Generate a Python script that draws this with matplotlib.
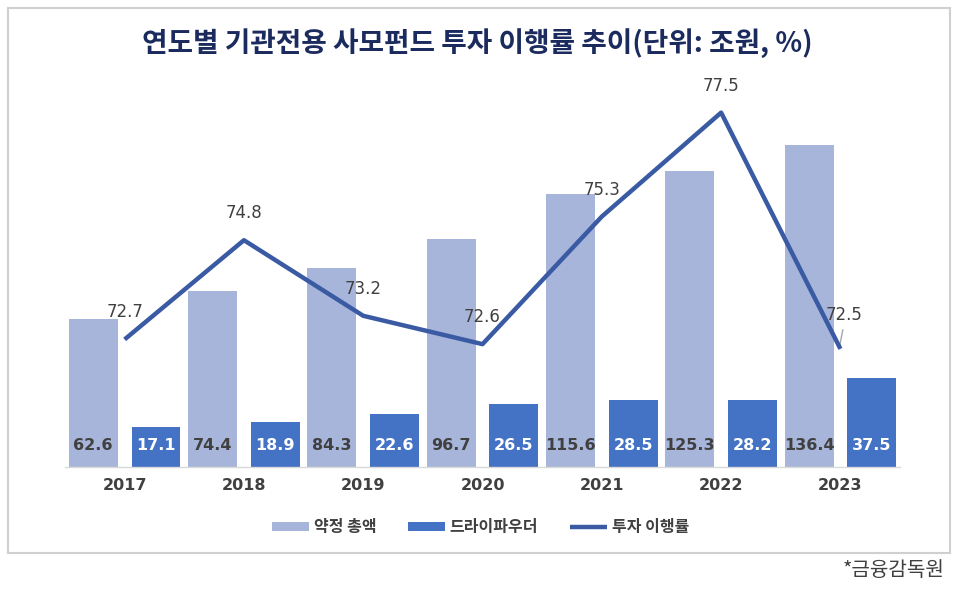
import matplotlib
matplotlib.use("Agg")
import matplotlib.pyplot as plt
from matplotlib.patches import Rectangle
import numpy as np

plt.rcParams['font.family'] = ['Noto Sans CJK KR', 'DejaVu Sans']
NUM_FONT = ['DejaVu Sans']

years = ['2017', '2018', '2019', '2020', '2021', '2022', '2023']
commit_total = [62.6, 74.4, 84.3, 96.7, 115.6, 125.3, 136.4]   # 약정 총액
dry_powder = [17.1, 18.9, 22.6, 26.5, 28.5, 28.2, 37.5]        # 드라이파우더
exec_rate = [72.7, 74.8, 73.2, 72.6, 75.3, 77.5, 72.5]         # 투자 이행률

c_light = '#A7B5DB'
c_dark = '#4472C4'
c_line = '#3A5BA3'
c_text = '#404040'

fig = plt.figure(figsize=(9.61, 5.94), dpi=100)
ax = fig.add_axes([0.0676, 0.2138, 0.869, 0.6364])
ax2 = ax.twinx()

x = np.arange(len(years))
w = 0.41
off = 0.263
b1 = ax.bar(x - off, commit_total, w, color=c_light, label='약정 총액', zorder=2)
b2 = ax.bar(x + off, dry_powder, w, color=c_dark, label='드라이파우더', zorder=2)

for xi, v in zip(x, commit_total):
    ax.text(xi - off, 9, f'{v}', ha='center', va='center', fontsize=11.5,
            fontweight='bold', color=c_text, family=NUM_FONT, zorder=3)
for xi, v in zip(x, dry_powder):
    ax.text(xi + off, 9, f'{v}', ha='center', va='center', fontsize=11.5,
            fontweight='bold', color='white', family=NUM_FONT, zorder=3)

ln, = ax2.plot(x, exec_rate, color=c_line, lw=3.2, label='투자 이행률',
               solid_capstyle='butt', zorder=4)
for i, (xi, v) in enumerate(zip(x, exec_rate)):
    if i == len(x) - 1:
        ax2.plot([xi - 0.01, xi + 0.02], [v + 0.02, v + 0.4], color='#A6A6A6', lw=1)
        ax2.text(xi + 0.03, v + 0.72, f'{v}', ha='center', va='center',
                 fontsize=12, color=c_text, family=NUM_FONT)
    else:
        ax2.text(xi, v + 0.57, f'{v}', ha='center', va='center',
                 fontsize=12, color=c_text, family=NUM_FONT)

ax.set_xlim(-0.5, 6.5)
ax.set_ylim(0, 160)
ax2.set_ylim(70, 78)
ax.set_xticks(x)
ax.set_xticklabels(years, fontsize=11.5, fontweight='bold', color=c_text, family=NUM_FONT)
ax.tick_params(axis='x', length=0, pad=8)
ax.set_yticks([])
ax2.set_yticks([])
for a in (ax, ax2):
    for s in ['top', 'right', 'left', 'bottom']:
        a.spines[s].set_visible(False)
ax.spines['bottom'].set_visible(True)
ax.spines['bottom'].set_color('#D9D9D9')
ax.spines['bottom'].set_linewidth(1)

ax.set_zorder(1)
ax2.set_zorder(2)
ax2.patch.set_visible(False)

fig.legend(handles=[b1, b2, ln], loc='center', bbox_to_anchor=(0.5, 0.113), ncol=3,
           frameon=False, prop={'size': 11.5, 'weight': 'bold'}, handlelength=2.3,
           handleheight=0.5, handletextpad=0.3, columnspacing=2.0, labelcolor=c_text)

fig.text(0.497, 0.927, '연도별 기관전용 사모펀드 투자 이행률 추이(단위: 조원, %)',
         ha='center', va='center', fontsize=20, fontweight='bold', color='#1B2B5E')

fig.patches.append(Rectangle((8 / 961, 1 - 553 / 594), 942 / 961, 545 / 594,
                             transform=fig.transFigure, fill=False,
                             edgecolor='#D0D0D0', lw=1.5))

fig.text(945 / 961, 1 - 571 / 594, '*금융감독원', ha='right', va='center',
         fontsize=14.5, color='#404040')

fig.savefig('out.png', dpi=100)
